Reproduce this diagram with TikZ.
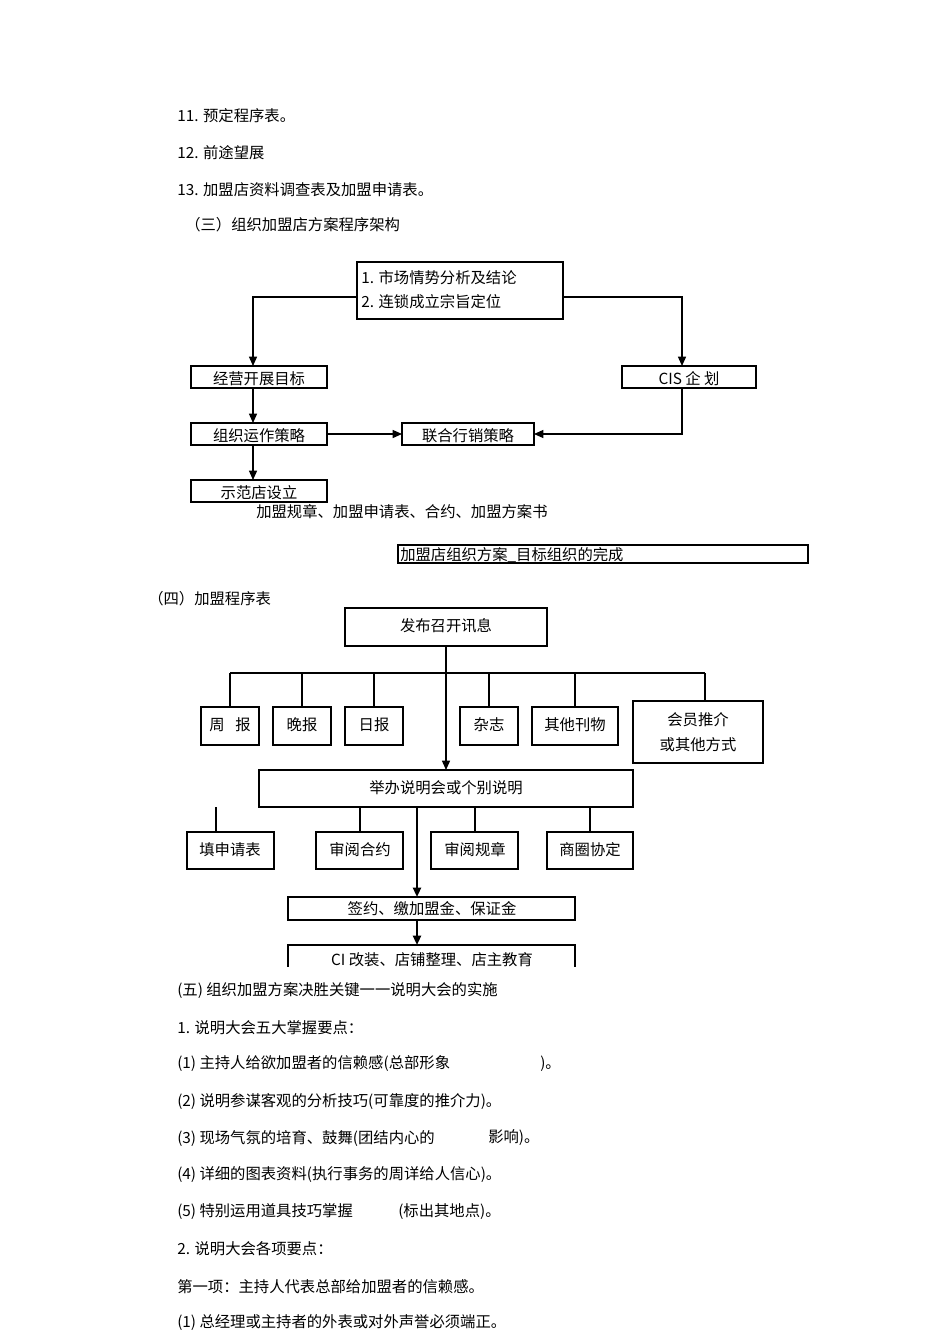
\documentclass[tikz,border=0pt]{standalone}
\usepackage{fontspec}
\setmainfont{Noto Sans CJK SC}
\usetikzlibrary{arrows.meta}
\begin{document}
\begin{tikzpicture}[x=0.75pt,y=-0.75pt,
  every node/.style={font=\fontsize{11.5}{13}\selectfont,inner sep=0pt},
  bx/.style={draw,line width=0.8pt},
  ln/.style={line width=0.8pt},
  thk/.style={line width=1.6pt},
  ar/.style={line width=1pt,-{Triangle[length=7pt,width=6pt]}},
  tx/.style={anchor=west}]
\useasboundingbox[fill=white] (0,0) rectangle (950,1344);
% header text
\node[tx] (t11) at (177,116) {11. 预定程序表。};
\node[tx] (t12) at (177,153) {12. 前途望展};
\node[tx] (t13) at (177,190) {13. 加盟店资料调查表及加盟申请表。};
\node[tx] (t3) at (185,225) {（三）组织加盟店方案程序架构};
% diagram 1
\draw[bx] (357,262) rectangle (563,319);
\coordinate (topL) at (357,297); \coordinate (topR) at (563,297);
\node[tx] (l1) at (361,278) {1. 市场情势分析及结论};
\node[tx] (l2) at (361,302) {2. 连锁成立宗旨定位};
\draw[bx] (191,366) rectangle (327,388); \node (jyt) at (259,379) {经营开展目标};
\draw[bx] (622,366) rectangle (756,388); \draw[thk] (756,366)--(756,388); \node (cist) at (689,379) {CIS 企 划};
\draw[bx] (191,423) rectangle (327,445); \node (zzt) at (259,436) {组织运作策略};
\draw[bx] (402,423) rectangle (534,445); \node (lht) at (468,436) {联合行销策略};
\draw[bx] (191,480) rectangle (327,502); \node (sft) at (259,493) {示范店设立};
\draw[ar] (topL) -| (253,366);
\draw[ar] (topR) -| (682,366);
\draw[ar] (253,388) -- (253,423);
\draw[ar] (253,445) -- (253,480);
\draw[ar] (327,434) -- (402,434);
\draw[ar] (682,388) |- (534,434);
\node[tx] (gz) at (256,512) {加盟规章、加盟申请表、合约、加盟方案书};
\draw[ln] (398,545) rectangle (808,563);
\node[tx] (wc) at (400,555) {加盟店组织方案\_目标组织的完成};
\node[tx] (t4) at (148,599) {（四）加盟程序表};
% diagram 2
\draw[bx] (345,608) rectangle (547,646); \node (fb) at (446,626) {发布召开讯息};
\draw[ln] (230,673) -- (705,673);
\foreach \x in {230,374,489,575} \draw[ln] (\x,673) -- (\x,707);
\draw[thk] (302,673) -- (302,707);
\draw[thk] (705,673) -- (705,701);
\draw[bx] (201,707) rectangle (259,745); \node (zb) at (230,725) {周\hspace{8pt}报};
\draw[bx] (273,707) rectangle (331,745); \draw[thk] (273,707)--(273,745); \node (wb) at (302,725) {晚报};
\draw[bx] (345,707) rectangle (403,745); \node (rb) at (374,725) {日报};
\draw[bx] (460,707) rectangle (518,745); \node (zz) at (489,725) {杂志};
\draw[bx] (532,707) rectangle (618,745); \draw[thk] (532,707)--(532,745); \node (qt) at (575,725) {其他刊物};
\draw[bx] (633,701) rectangle (763,763); \draw[thk] (763,701)--(763,763);
\node[align=center] (hy) at (698,732) {会员推介\\[6pt]或其他方式};
\draw[ar] (446,646) -- (446,770);
\draw[bx] (259,770) rectangle (633,807); \node (jb) at (446,788) {举办说明会或个别说明};
\foreach \x in {216,360,475,590} \draw[thk] (\x,807) -- (\x,832);
\draw[bx] (187,832) rectangle (274,869); \node (ts) at (230,850) {填申请表};
\draw[bx] (316,832) rectangle (403,869); \node (sh) at (360,850) {审阅合约};
\draw[bx] (431,832) rectangle (518,869); \node (sg) at (475,850) {审阅规章};
\draw[bx] (547,832) rectangle (633,869); \node (sq) at (590,850) {商圈协定};
\draw[ar,line width=1.5pt] (417,807) -- (417,897);
\draw[bx] (288,897) rectangle (575,920); \node (qy) at (432,909) {签约、缴加盟金、保证金};
\draw[ar,line width=1.5pt] (417,920) -- (417,945);
\begin{scope}
\clip (280,940) rectangle (585,966);
\draw[bx] (288,945) rectangle (575,990);
\node (ci) at (432,960) {CI 改装、店铺整理、店主教育};
\end{scope}
% bottom text
\node[tx] (t5) at (177,990) {(五) 组织加盟方案决胜关键一一说明大会的实施};
\node[tx] (b1) at (177,1028) {1. 说明大会五大掌握要点：};
\node[tx] (p1) at (177,1064) {(1) 主持人给欲加盟者的信赖感(总部形象};
\node[tx] (p1b) at (540,1064) {)。};
\node[tx] (p2) at (177,1101) {(2) 说明参谋客观的分析技巧(可靠度的推介力)。};
\node[tx] (p3) at (177,1138) {(3) 现场气氛的培育、鼓舞(团结内心的};
\node[tx] (p3b) at (488,1138) {影响)。};
\node[tx] (p4) at (177,1175) {(4) 详细的图表资料(执行事务的周详给人信心)。};
\node[tx] (p5) at (177,1212) {(5) 特别运用道具技巧掌握};
\node[tx] (p5b) at (398,1212) {(标出其地点)。};
\node[tx] (b2) at (177,1249) {2. 说明大会各项要点：};
\node[tx] (d1) at (177,1287) {第一项：主持人代表总部给加盟者的信赖感。};
\node[tx] (d2) at (177,1323) {(1) 总经理或主持者的外表或对外声誉必须端正。};
\end{tikzpicture}
\end{document}
